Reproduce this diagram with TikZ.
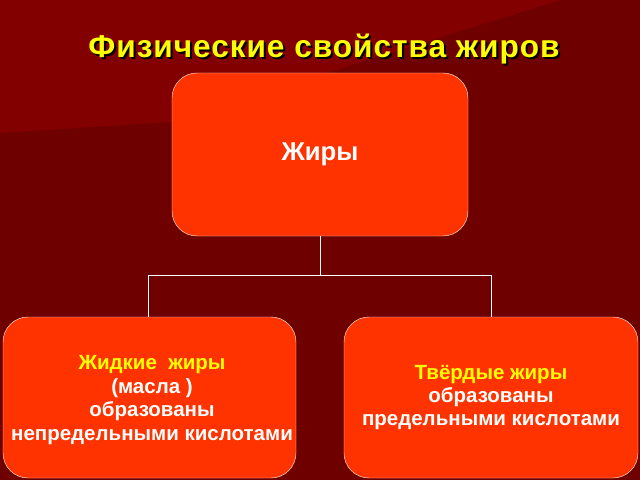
\documentclass[tikz,border=0pt]{standalone}
\usepackage{fontspec}
\setmainfont{Liberation Sans}
\usetikzlibrary{positioning}
\definecolor{bgdark}{HTML}{6E0000}
\definecolor{bglight}{HTML}{820000}
\definecolor{boxred}{HTML}{FF3300}
\definecolor{titleyellow}{HTML}{FFFF00}
\begin{document}
\begin{tikzpicture}[x=0.03cm, y=-0.03cm]
      \tikzstyle{fatbox} = [draw=white!85!boxred, fill=boxred, rounded corners=0.75cm, align=center, font=\bfseries\fontsize{17.5}{20}\selectfont, text=white, inner sep=0pt]
      \tikzstyle{link} = [draw=white, thick]
      % background
      \fill[bgdark] (0,0) rectangle (640,480);
      \fill[bglight] (0,0) -- (560,0) -- (170,122) -- (0,133) -- cycle;
      % title
      \node[font=\bfseries\fontsize{27}{32}\selectfont, text=black] at (326,51) {\addfontfeature{LetterSpace=3}Физические свойства жиров};
      \node[font=\bfseries\fontsize{27}{32}\selectfont, text=titleyellow] (title) at (324,49) {\addfontfeature{LetterSpace=3}Физические свойства жиров};
      % boxes
      \node[fatbox, minimum width=296*0.03cm, minimum height=163*0.03cm, font=\bfseries\fontsize{22}{26}\selectfont] (fats) at (320,154.5) {Жиры};
      \draw[draw=white!85!boxred, fill=boxred, rounded corners=0.75cm] (3,317) rectangle (296,478);
      \node[align=center, font=\bfseries\fontsize{17.5}{20}\selectfont, text=white, inner sep=0pt] (liquid) at (152,400) {\textcolor{titleyellow}{Жидкие\ \ жиры}\\(масла )\\образованы\\непредельными кислотами};
      \node[fatbox, minimum width=294*0.03cm, minimum height=161*0.03cm] (solid) at (491,397.5) {\textcolor{titleyellow}{Твёрдые жиры}\\образованы\\предельными кислотами};
      % connectors
      \coordinate (fork) at (320,275);
      \coordinate (drop) at (148,317);
      \draw[link] (fats.south) -- (fork) -| (drop);
      \draw[link] (fork) -| (solid.north);
\end{tikzpicture}
\end{document}
